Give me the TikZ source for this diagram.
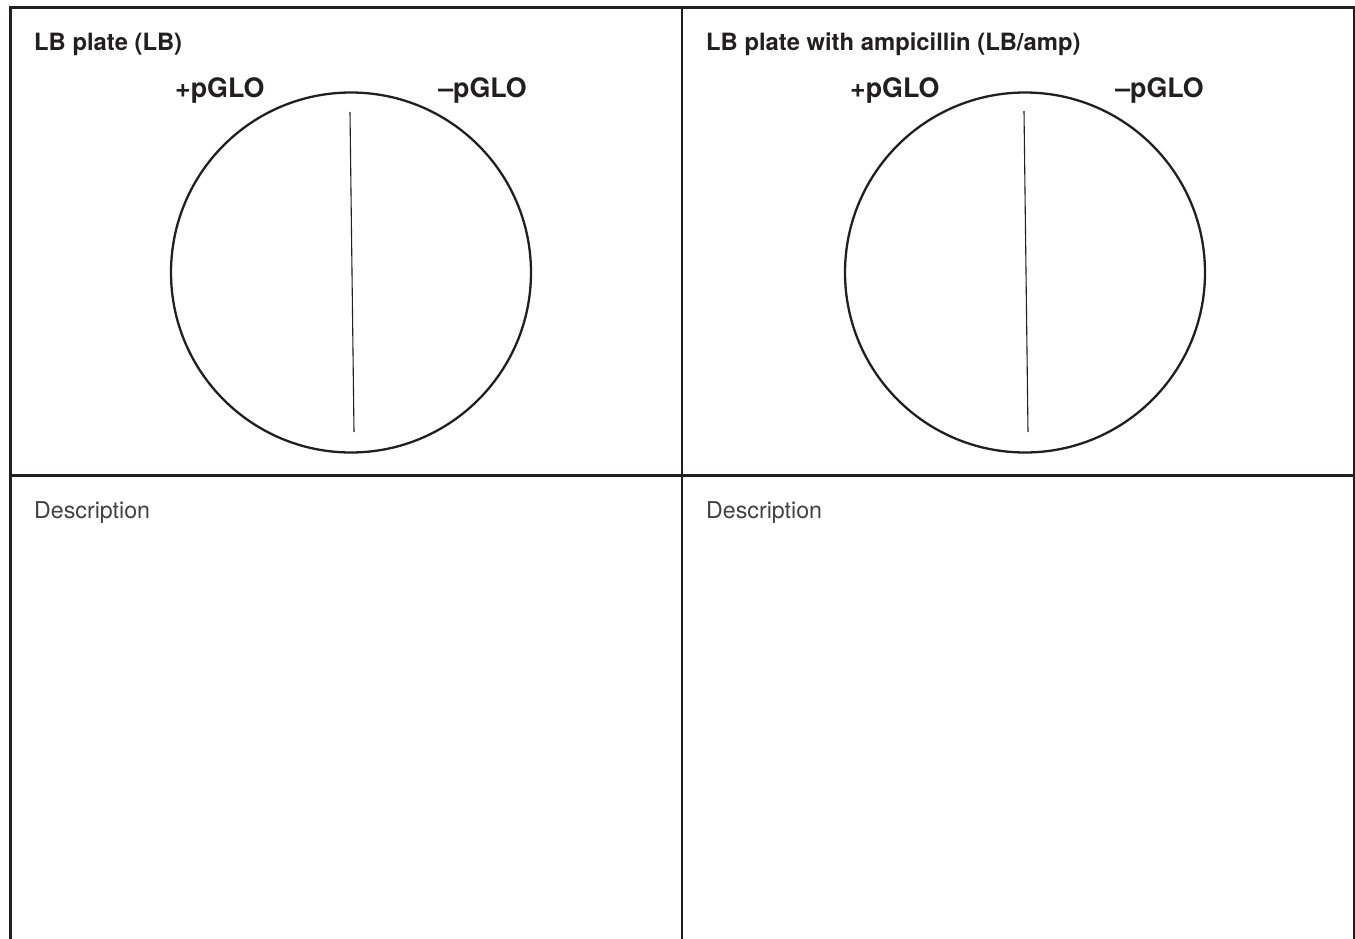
\documentclass[tikz,border=0pt]{standalone}
\usepackage{fontspec}
\setmainfont{TeX Gyre Heros}
\definecolor{frame}{HTML}{231F20}
\tikzset{
  gridline/.style={draw=frame, line width=2.5pt},
  plate/.style={draw=frame, line width=2.3pt},
  divider/.style={draw=frame, line width=1.1pt},
  title/.style={anchor=base west, inner sep=0pt, font=\fontsize{23.8}{28}\selectfont\bfseries, text=frame},
  sidelabel/.style={inner sep=0pt, font=\fontsize{26.8}{30}\selectfont\bfseries, text=frame},
  desc/.style={anchor=base west, inner sep=0pt, font=\fontsize{23.2}{27}\selectfont, text=frame!85}
}
\begin{document}
\begin{tikzpicture}[x=1pt,y=-1pt]
\useasboundingbox (0,0) rectangle (1355,939);
% table grid
\draw[gridline] (10.5,939) -- (10.5,7.5) -- (1354,7.5) -- (1354,939);
\draw[gridline] (682,7.5) -- (682,939);
\draw[gridline] (10.5,475.5) -- (1354,475.5);
% left panel
\node[title] (t1) at (34,51) {LB plate (LB)};
\node[sidelabel, anchor=base west] (p1) at (175,98) {+pGLO};
\node[sidelabel, anchor=base east] (m1) at (527,98) {–pGLO};
\draw[plate] (351,272.5) circle (180);
\draw[divider] (350,112) -- (354,432);
\node[desc] (d1) at (34,518) {Description};
% right panel
\node[title] (t2) at (706,51) {LB plate with ampicillin (LB/amp)};
\node[sidelabel, anchor=base west] (p2) at (850,98) {+pGLO};
\node[sidelabel, anchor=base east] (m2) at (1204,98) {–pGLO};
\draw[plate] (1025,272.5) circle (180);
\draw[divider] (1024,111) -- (1028,432);
\node[desc] (d2) at (706,518) {Description};
\end{tikzpicture}
\end{document}
